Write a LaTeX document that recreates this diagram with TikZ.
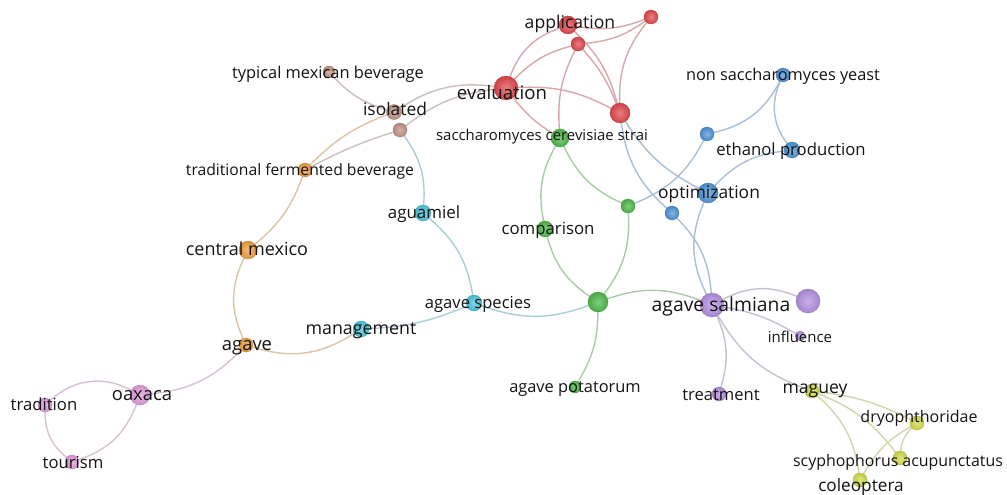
\documentclass[tikz,border=0pt]{standalone}
\usepackage{fontspec}
\setmainfont{Open Sans}
\usetikzlibrary{positioning}
\pgfdeclarelayer{bg}
\pgfsetlayers{bg,main}
\definecolor{vred}{HTML}{E0474C}
\definecolor{vgreen}{HTML}{4DB848}
\definecolor{vblue}{HTML}{4F93D6}
\definecolor{vyellow}{HTML}{D2DB4A}
\definecolor{vpurple}{HTML}{B48FE0}
\definecolor{vcyan}{HTML}{4CC6DC}
\definecolor{vorange}{HTML}{F0A040}
\definecolor{vbrown}{HTML}{C29484}
\definecolor{vpink}{HTML}{E09CDA}

\begin{document}
\begin{tikzpicture}[x=1pt, y=-1pt,
kw/.style ={circle, inner sep=0pt, minimum size=#1},
kw/.default=14,
bead/.style ={shading=radial, inner color=#1!70!white, outer color=#1!92!black,
draw=#1!80!black, line width=0.3pt},
lbl/.style ={font=\fontsize{#1}{#1}\selectfont, inner sep=0pt, yshift=-3pt,
text height=0.72em, text depth=0.22em, text=black!92},
lbl/.default=16,
lnk/.style ={draw=#1!55!gray!55!white, line width=1.4pt}]
\useasboundingbox (0,0) rectangle (1007,495);

% red cluster
\node[kw=18, bead=vred] (app) at (568,25) {};
\node[kw=14, bead=vred] (redtr) at (651,17) {};
\node[kw=14, bead=vred] (redsm) at (578,44) {};
\node[kw=24, bead=vred] (eval) at (506,88) {};
\node[kw=20, bead=vred] (redr) at (620,113) {};
% brown cluster
\node[kw=12, bead=vbrown] (tmb) at (329,72) {};
\node[kw=15, bead=vbrown] (iso) at (394,112) {};
\node[kw=14, bead=vbrown] (iso2) at (400,130) {};
% orange cluster
\node[kw=14, bead=vorange] (tfb) at (305,170) {};
\node[kw=18, bead=vorange] (cmx) at (248,250) {};
\node[kw=14, bead=vorange] (agv) at (246,345) {};
% cyan cluster
\node[kw=16, bead=vcyan] (mgmt) at (361,329) {};
\node[kw=16, bead=vcyan] (agsp) at (474,303) {};
\node[kw=16, bead=vcyan] (agm) at (423,213) {};
% green cluster
\node[kw=16, bead=vgreen] (cmp) at (545,229) {};
\node[kw=18, bead=vgreen] (sac) at (560,138) {};
\node[kw=14, bead=vgreen] (grsm) at (628,206) {};
\node[kw=20, bead=vgreen] (grhub) at (598,302) {};
\node[kw=12, bead=vgreen] (agpot) at (575,387) {};
% blue cluster
\node[kw=14, bead=vblue] (nsy) at (783,75) {};
\node[kw=14, bead=vblue] (blsm) at (707,134) {};
\node[kw=16, bead=vblue] (eth) at (792,150) {};
\node[kw=20, bead=vblue] (opt) at (708,193) {};
\node[kw=14, bead=vblue] (blsm2) at (672,213) {};
% purple cluster
\node[kw=24, bead=vpurple] (sal) at (712,305) {};
\node[kw=24, bead=vpurple] (purr) at (808,301) {};
\node[kw=10, bead=vpurple] (infl) at (800,336) {};
\node[kw=14, bead=vpurple] (treat) at (719,394) {};
% yellow cluster
\node[kw=14, bead=vyellow] (mag) at (812,391) {};
\node[kw=14, bead=vyellow] (dryo) at (917,423) {};
\node[kw=14, bead=vyellow] (scy) at (900,458) {};
\node[kw=14, bead=vyellow] (cole) at (860,480) {};
% pink cluster
\node[kw=20, bead=vpink] (oax) at (140,395) {};
\node[kw=14, bead=vpink] (trad) at (45,405) {};
\node[kw=14, bead=vpink] (tour) at (72,462) {};

% labels
\node[lbl=17.6] (app-t) at (570,23) {application};
\node[lbl=18.6] (eval-t) at (502,94) {evaluation};
\node[lbl=14.9] (sac-t) at (542,135) {saccharomyces cerevisiae strai};
\node[lbl=16.4] (tmb-t) at (328,73) {typical mexican beverage};
\node[lbl=17.4] (iso-t) at (395,110) {isolated};
\node[lbl=15.7] (tfb-t) at (300,170) {traditional fermented beverage};
\node[lbl=18] (cmx-t) at (247,250) {central mexico};
\node[lbl=18.4] (agv-t) at (247,345) {agave};
\node[lbl=17.8] (mgmt-t) at (361,329) {management};
\node[lbl=16.6] (agsp-t) at (478,303) {agave species};
\node[lbl=16.9] (agm-t) at (424,213) {aguamiel};
\node[lbl=16.8] (cmp-t) at (548,229) {comparison};
\node[lbl=16.4] (agpot-t) at (575,387) {agave potatorum};
\node[lbl=16.3] (nsy-t) at (783,75) {non saccharomyces yeast};
\node[lbl=16.7] (eth-t) at (791,150) {ethanol production};
\node[lbl=17.4] (opt-t) at (709,193) {optimization};
\node[lbl=19.3] (sal-t) at (721,306) {agave salmiana};
\node[lbl=15] (infl-t) at (800,337) {influence};
\node[lbl=16.6] (treat-t) at (721,395) {treatment};
\node[lbl=17.6] (mag-t) at (815,388) {maguey};
\node[lbl=16] (dryo-t) at (919,417) {dryophthoridae};
\node[lbl=15.9] (scy-t) at (898,461) {scyphophorus acupunctatus};
\node[lbl=17.2] (cole-t) at (861,486) {coleoptera};
\node[lbl=18.4] (oax-t) at (142,395) {oaxaca};
\node[lbl=16.7] (trad-t) at (44,405) {tradition};
\node[lbl=16.7] (tour-t) at (73,463) {tourism};

\begin{pgfonlayer}{bg}
\fill[white] (0,0) rectangle (1007,495);
% pink and orange
\path (oax) edge[lnk=vpink, bend right=20] (agv);
\path (oax) edge[lnk=vpink, bend right=35] (trad);
\path (trad) edge[lnk=vpink, bend right=25] (tour);
\path (tour) edge[lnk=vpink, bend right=25] (oax);
\path (agv) edge[lnk=vorange, bend left=25] (cmx);
\path (agv) edge[lnk=vorange, bend right=25] (mgmt);
\path (cmx) edge[lnk=vorange, bend right=15] (tfb);
\path (tfb) edge[lnk=vorange, bend left=12] (iso);
\path (tfb) edge[lnk=vbrown, bend left=5] (iso2);
% cyan
\path (mgmt) edge[lnk=vcyan, bend right=10] (agsp);
\path (agsp) edge[lnk=vcyan, bend right=20] (agm);
\path (agm) edge[lnk=vcyan, bend right=20] (iso2);
% brown and red
\path (tmb) edge[lnk=vbrown, bend right=15] (iso);
\path (iso) edge[lnk=vbrown, bend left=20] (eval);
\path (iso2) edge[lnk=vbrown, bend left=15] (eval);
\path (eval) edge[lnk=vred, bend left=25] (app);
\path (eval) edge[lnk=vred, bend left=15] (redsm);
\path (eval) edge[lnk=vred, bend left=15] (redr);
\path (eval) edge[lnk=vred, bend right=10] (sac);
\path (app) edge[lnk=vred, bend right=15] (redtr);
\path (redsm) edge[lnk=vred, bend right=15] (redtr);
\path (redsm) edge[lnk=vred, bend left=10] (redr);
\path (app) edge[lnk=vred, bend left=15] (redr);
\path (redtr) edge[lnk=vred, bend right=20] (redr);
\path (redsm) edge[lnk=vred, bend right=15] (sac);
\path (redr) edge[lnk=vblue, bend right=20] (blsm2);
\path (redr) edge[lnk=vblue, bend right=15] (opt);
% blue
\path (blsm2) edge[lnk=vblue, bend left=20] (sal);
\path (opt) edge[lnk=vblue, bend right=25] (sal);
\path (opt) edge[lnk=vblue, bend left=20] (eth);
\path (nsy) edge[lnk=vblue, bend right=30] (eth);
\path (nsy) edge[lnk=vblue, bend left=25] (blsm);
\path (blsm) edge[lnk=vblue, bend left=20] (grsm);
% green
\path (sac) edge[lnk=vgreen, bend right=20] (grsm);
\path (sac) edge[lnk=vgreen, bend right=20] (cmp);
\path (cmp) edge[lnk=vgreen, bend right=20] (grhub);
\path (grsm) edge[lnk=vgreen, bend left=20] (grhub);
\path (grhub) edge[lnk=vcyan, bend left=20] (agsp);
\path (grhub) edge[lnk=vgreen, bend left=20] (sal);
\path (grhub) edge[lnk=vgreen, bend left=15] (agpot);
% purple and yellow
\path (sal) edge[lnk=vpurple, bend left=25] (purr);
\path (sal) edge[lnk=vpurple, bend left=10] (infl);
\path (sal) edge[lnk=vpurple, bend left=20] (treat);
\path (sal) edge[lnk=vpurple, bend right=20] (mag);
\path (mag) edge[lnk=vyellow, bend left=10] (dryo);
\path (mag) edge[lnk=vyellow, bend left=15] (scy);
\path (mag) edge[lnk=vyellow, bend left=20] (cole);
\path (dryo) edge[lnk=vyellow, bend right=15] (cole);
\path (dryo) edge[lnk=vyellow, bend right=20] (scy);
\end{pgfonlayer}
\end{tikzpicture}
\end{document}
